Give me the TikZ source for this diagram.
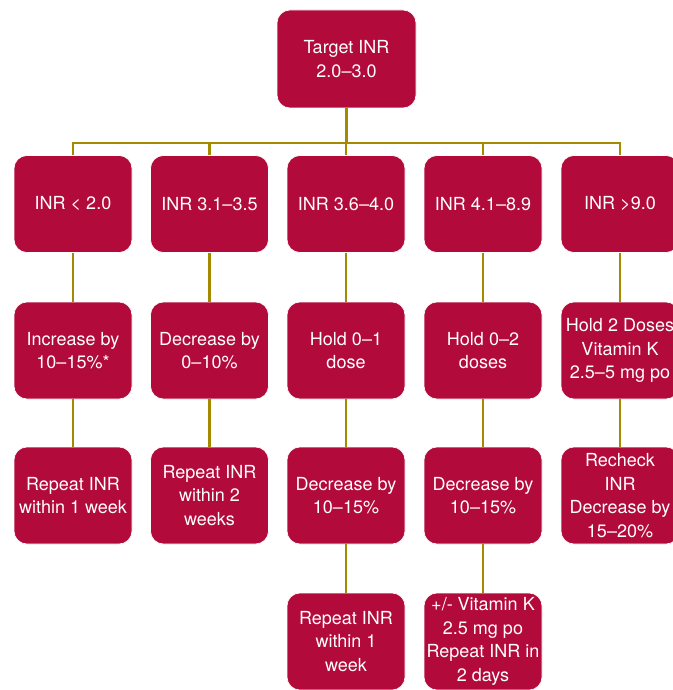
\documentclass[tikz,border=0pt]{standalone}
\usepackage{fontspec}
\setmainfont{TeX Gyre Heros}
\definecolor{boxred}{RGB}{178,10,58}
\definecolor{linegold}{RGB}{163,138,0}
\begin{document}
\begin{tikzpicture}[x=1pt,y=-1pt,
  box/.style={draw=white, line width=0.6pt, fill=boxred, rounded corners=13pt, minimum width=118pt, minimum height=97pt, inner sep=0pt, align=center, text=white, font=\fontsize{18}{23.5}\selectfont},
  conn/.style={draw=linegold, line width=2.6pt}]
\useasboundingbox (0,0) rectangle (672,690);
% top
\node[box, minimum width=139pt, minimum height=98pt] (top) at (346.5,59) {Target INR\\2.0–3.0};
% row 1
\node[box] (c1) at (73,204) {INR < 2.0};
\node[box] (c2) at (209.5,204) {INR 3.1–3.5};
\node[box] (c3) at (346,204) {INR 3.6–4.0};
\node[box] (c4) at (483,204) {INR 4.1–8.9};
\node[box] (c5) at (620,204) {INR >9.0};
% row 2
\node[box] (d1) at (73,350.5) {Increase by\\10–15\%*};
\node[box] (d2) at (209.5,350.5) {Decrease by\\0–10\%};
\node[box] (d3) at (346,350.5) {Hold 0–1\\dose};
\node[box] (d4) at (483,350.5) {Hold 0–2\\doses};
\node[box] (d5) at (620,350.5) {Hold 2 Doses\\Vitamin K\\2.5–5 mg po};
% row 3
\node[box] (e1) at (73,495.5) {Repeat INR\\within 1 week};
\node[box] (e2) at (209.5,495.5) {Repeat INR\\within 2\\weeks};
\node[box] (e3) at (346,495.5) {Decrease by\\10–15\%};
\node[box] (e4) at (483,495.5) {Decrease by\\10–15\%};
\node[box] (e5) at (620,495.5) {Recheck\\INR\\Decrease by\\15–20\%};
% row 4
\node[box] (f3) at (346,641.5) {Repeat INR\\within 1\\week};
\node[box] (f4) at (483,641.5) {+/- Vitamin K\\2.5 mg po\\Repeat INR in\\2 days};
% connectors
\coordinate (bus) at (346,143);
\begin{scope}[on background layer/.try]
\end{scope}
\draw[conn] (top.south) -- (top.south |- bus);
\draw[conn] (c1.north) -- (c1.north |- bus) -- (c5.north |- bus) -- (c5.north);
\draw[conn] (c2.north) -- (c2.north |- bus);
\draw[conn] (c3.north) -- (c3.north |- bus);
\draw[conn] (c4.north) -- (c4.north |- bus);
\draw[conn] (c1) -- (d1); \draw[conn] (d1) -- (e1);
\draw[conn] (c2) -- (d2); \draw[conn] (d2) -- (e2);
\draw[conn] (c3) -- (d3); \draw[conn] (d3) -- (e3); \draw[conn] (e3) -- (f3);
\draw[conn] (c4) -- (d4); \draw[conn] (d4) -- (e4); \draw[conn] (e4) -- (f4);
\draw[conn] (c5) -- (d5); \draw[conn] (d5) -- (e5);
\end{tikzpicture}
\end{document}
